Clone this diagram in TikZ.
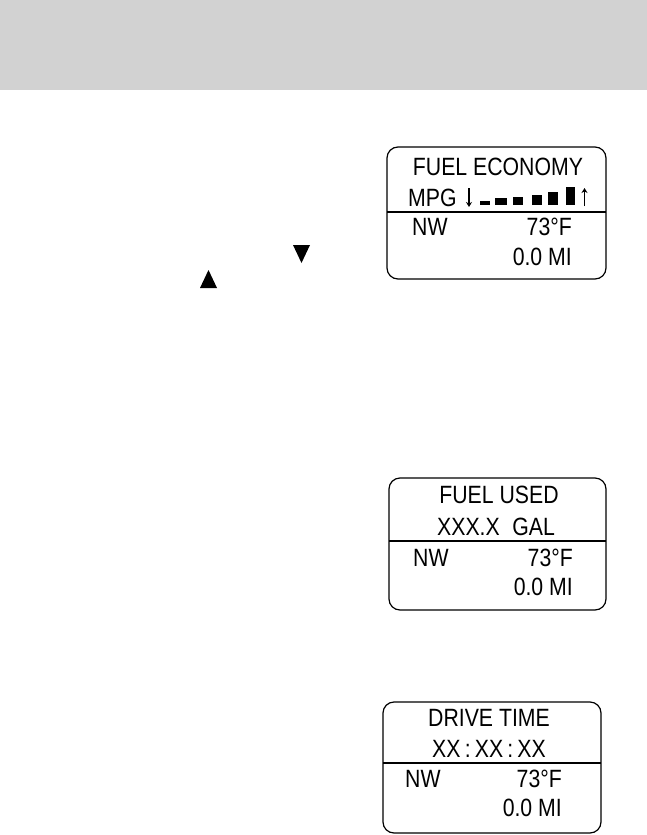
\documentclass[tikz,border=0pt]{standalone}
\usepackage{fontspec}
\usetikzlibrary{arrows.meta}
\newfontfamily\lcd[FakeStretch=0.85]{Liberation Sans}
\definecolor{headergray}{HTML}{D2D2D2}
\begin{document}
\begin{tikzpicture}[x=1pt,y=-1pt,
  lcdtext/.style={font=\lcd\fontsize{25}{25}\selectfont, inner sep=0pt},
  panel/.style={draw, line width=1.2pt, rounded corners=11pt},
  divider/.style={draw, line width=1.2pt},
  bar/.style={fill=black},
  tri/.style={fill=black},
  ind/.style={line width=1.6pt, -{Stealth[length=5pt,width=6pt]}}]
\useasboundingbox (0,0) rectangle (647,835);
\fill[headergray] (0,0) rectangle (647,90);

% triangles
\fill[tri] (293,245) -- (310,245) -- (301.5,263) -- cycle;
\fill[tri] (200,288) -- (217,288) -- (208.5,270) -- cycle;

% panel 1
\draw[panel] (387,147) rectangle (606,279);
\draw[divider] (387,212) -- (606,212);
\node[lcdtext] (t1) at (498,167) {FUEL ECONOMY};
\node[lcdtext, anchor=west] (mpg) at (408,198) {MPG};
\coordinate (da) at (469,188);
\coordinate (db) at (469,207);
\draw[ind] (da) -- (db);
\fill[bar] (480,201) rectangle (490,205);
\fill[bar] (495,198) rectangle (507,205);
\fill[bar] (513,197) rectangle (523,205);
\fill[bar] (532,195) rectangle (542,205);
\fill[bar] (548,192) rectangle (558,205);
\fill[bar] (566,187) rectangle (575,205);
\coordinate (ua) at (584.5,206);
\coordinate (ub) at (584.5,188);
\draw[ind] (ua) -- (ub);
\node[lcdtext, anchor=west] (nw1) at (412,227) {NW};
\node[lcdtext, anchor=east] (tmp1) at (572,227) {73°F};
\node[lcdtext, anchor=east] (mi1) at (572,257) {0.0 MI};

% panel 2
\draw[panel] (389,478) rectangle (606,610);
\draw[divider] (389,541) -- (606,541);
\node[lcdtext] (t2) at (499,495) {FUEL USED};
\node[lcdtext] (g2) at (496,527) {XXX.X\hspace{0.5em}GAL};
\node[lcdtext, anchor=west] (nw2) at (413,558) {NW};
\node[lcdtext, anchor=east] (tmp2) at (573,558) {73°F};
\node[lcdtext, anchor=east] (mi2) at (573,587) {0.0 MI};

% panel 3
\draw[panel] (383,702) rectangle (601,833);
\draw[divider] (383,763) -- (601,763);
\node[lcdtext] (t3) at (489,718) {DRIVE TIME};
\node[lcdtext] (x3) at (489,749) {XX\,:\,XX\,:\,XX};
\node[lcdtext, anchor=west] (nw3) at (405,779) {NW};
\node[lcdtext, anchor=east] (tmp3) at (562,779) {73°F};
\node[lcdtext, anchor=east] (mi3) at (562,808) {0.0 MI};
\end{tikzpicture}
\end{document}
